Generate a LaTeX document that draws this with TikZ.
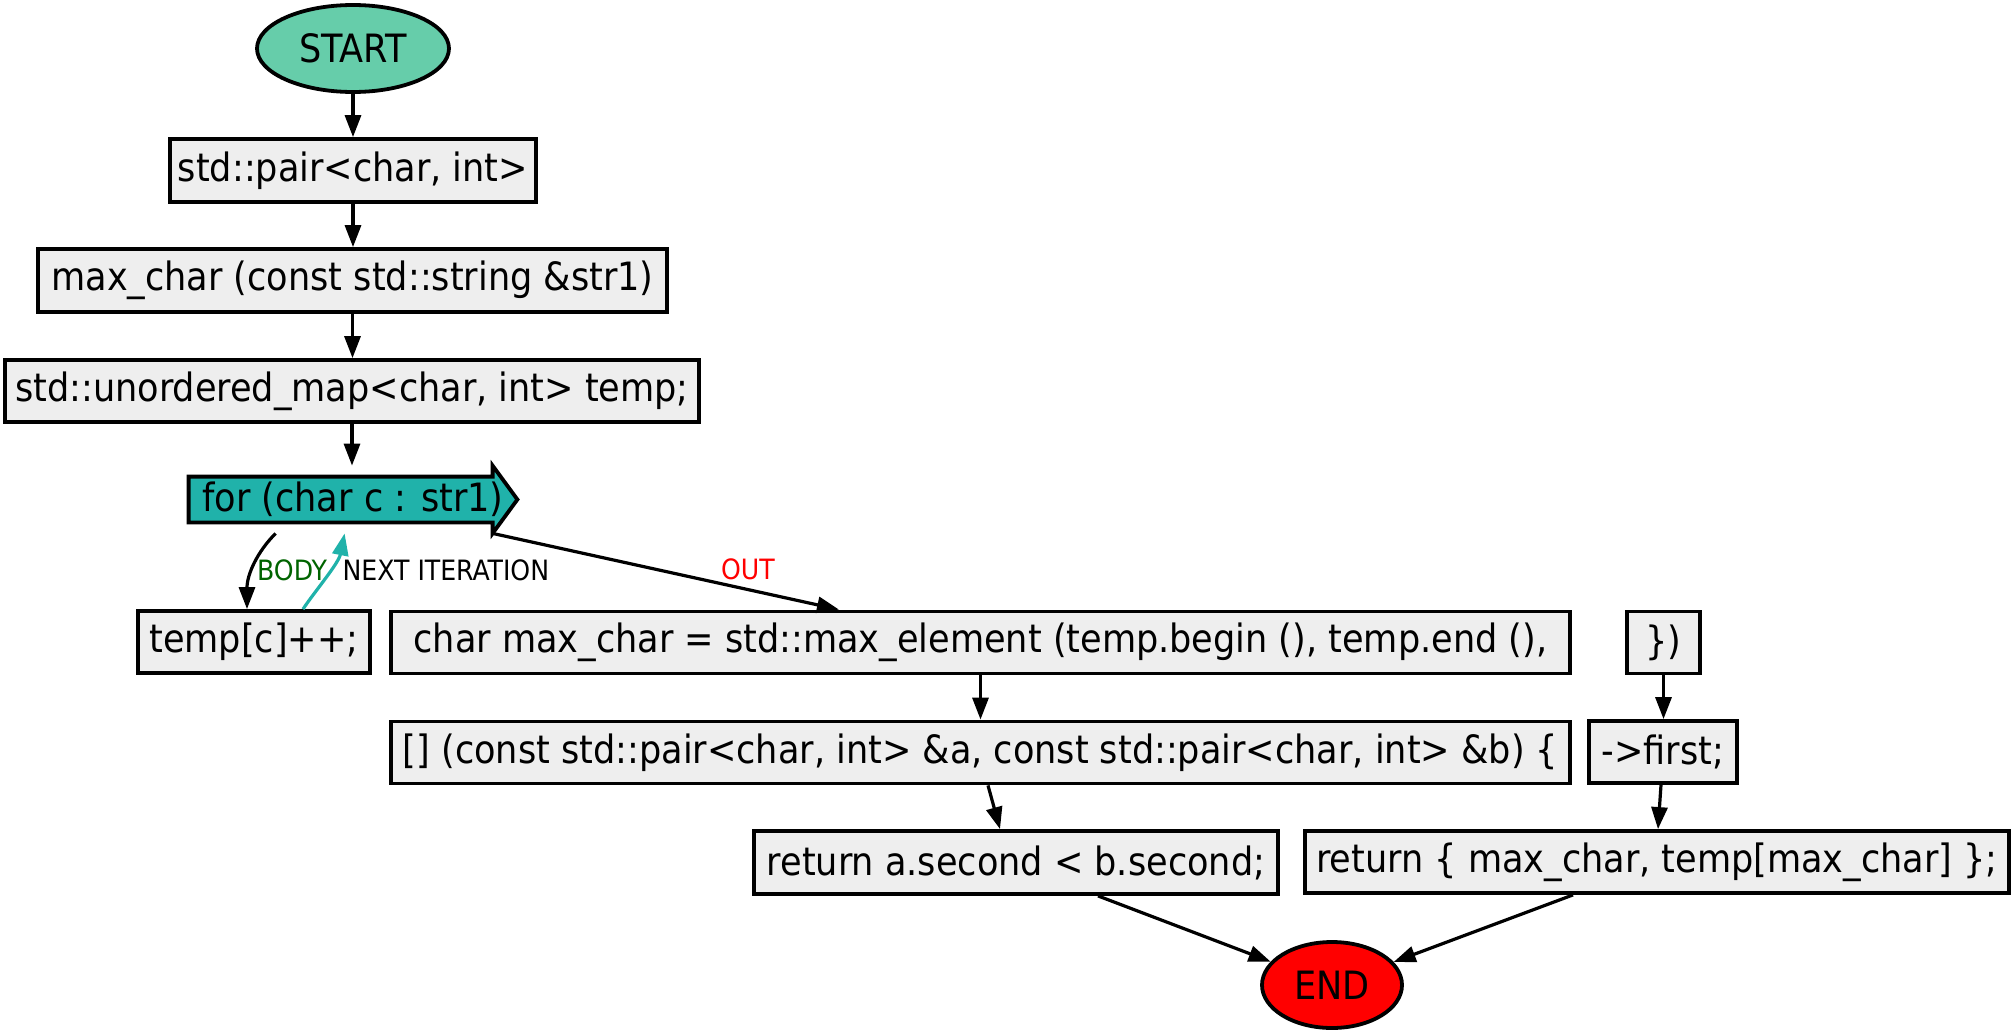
\documentclass[tikz,border=0pt]{standalone}
\usepackage{fontspec}
\setmainfont{DejaVu Sans Condensed}
\usetikzlibrary{arrows.meta,shapes.geometric,calc,backgrounds}
\definecolor{boxfill}{HTML}{EEEEEE}
\definecolor{startfill}{HTML}{66CDAA}
\definecolor{loopfill}{HTML}{20B2AA}
\definecolor{bodygreen}{HTML}{006400}
\begin{document}
\begin{tikzpicture}[x=0.5pt,y=-0.5pt,
  every node/.style={font=\fontsize{19.5}{23}\selectfont, inner sep=0pt},
  stmt/.style={draw, line width=1.9pt, fill=boxfill, rectangle, minimum height=31pt},
  term/.style={draw, line width=1.9pt, ellipse},
  flow/.style={line width=1.6pt, -{Triangle[length=11pt,width=8pt]}},
  lbl/.style={font=\fontsize{14}{16}\selectfont}
]
\useasboundingbox (0,0) rectangle (2014,1033);

% terminals
\node[term, fill=startfill, minimum width=96pt, minimum height=43.5pt] (start) at (353,48.5) {START};
\node[term, fill=red, minimum width=70pt, minimum height=43pt] (end) at (1332,985) {END};

% left column
\node[stmt, minimum width=183pt, minimum height=31.5pt] (pair) at (353,170.5) {std::pair<char, int>};
\node[stmt, minimum width=314.5pt, minimum height=31.5pt] (maxc) at (352.5,280.5) {max\_char (const std::string \&str1)};
\node[stmt, minimum width=347pt] (umap) at (352,391) {std::unordered\_map<char, int> temp;};

% loop header (cds-like shape drawn behind the text)
\node[minimum width=164pt, minimum height=33.5pt] (for) at (353,499.5) {for (char c : str1)};
\begin{scope}[on background layer]
\draw[line width=1.9pt, fill=loopfill, line join=miter]
  ($(for.north west)+(0,11)$) -- ($(for.north west)+(304,11)$) -- ($(for.north west)+(304,0)$)
  -- (for.east) -- ($(for.south west)+(304,0)$) -- ($(for.south west)+(304,-11)$)
  -- ($(for.south west)+(0,-11)$) -- cycle;
\end{scope}

\node[stmt, minimum width=116pt] (inc) at (254,642) {temp[c]++;};

% right part
\node[stmt, minimum width=589.5pt] (maxel) at (980.5,642.5) {char max\_char = std::max\_element (temp.begin (), temp.end (),};
\node[stmt, minimum width=36.5pt] (close) at (1663.5,642.5) {\})};
\node[stmt, minimum width=589.5pt] (lambda) at (980.5,752.5) {[] (const std::pair<char, int> \&a, const std::pair<char, int> \&b) \{};
\node[stmt, minimum width=74pt] (first) at (1663,752) {->first;};
\node[stmt, minimum width=262pt, minimum height=31.5pt] (reta) at (1016,862.5) {return a.second < b.second;};
\node[stmt, minimum width=352pt] (retb) at (1657,862) {return \{ max\_char, temp[max\_char] \};};

% connectors
\draw[flow] (start) -- (pair);
\draw[flow] (pair.south) -- (pair.south |- maxc.north);
\draw[flow] (maxc.south) -- (maxc.south |- umap.north);
\draw[flow] (umap.south) -- (umap.south |- for.north);

\draw[flow] ($(for.south west)+(87,0)$) .. controls +(-18,18) and +(0,-35) .. ($(inc.north)+(-7,0)$)
  node[lbl, text=bodygreen, pos=0.5, anchor=west, xshift=0.5pt, yshift=-2.7pt] {BODY};
\draw[flow, draw=loopfill] ($(inc.north)+(49,0)$) .. controls +(12,-18) and +(-6,30) .. ($(for.south west)+(156,0)$)
  node[lbl, text=black, pos=0.5, anchor=west, xshift=7.5pt, yshift=2.75pt] {NEXT ITERATION};
\draw[flow] ($(for.south west)+(304,0)$) -- ($(maxel.north)+(-141.5,0)$)
  node[lbl, text=red, pos=0.737, yshift=10pt] {OUT};

\draw[flow] (maxel) -- (lambda);
\draw[flow] ($(lambda.south)+(7.5,0)$) -- ($(reta.north)+(-16,0)$);
\draw[flow] (close.south) -- (close.south |- first.north);
\draw[flow] ($(first.south)+(-2,0)$) -- ($(retb.north)+(1,0)$);
\draw[flow] ($(reta.south)+(82,0)$) -- (end);
\draw[flow] ($(retb.south)+(-84,0)$) -- (end);
\end{tikzpicture}
\end{document}
